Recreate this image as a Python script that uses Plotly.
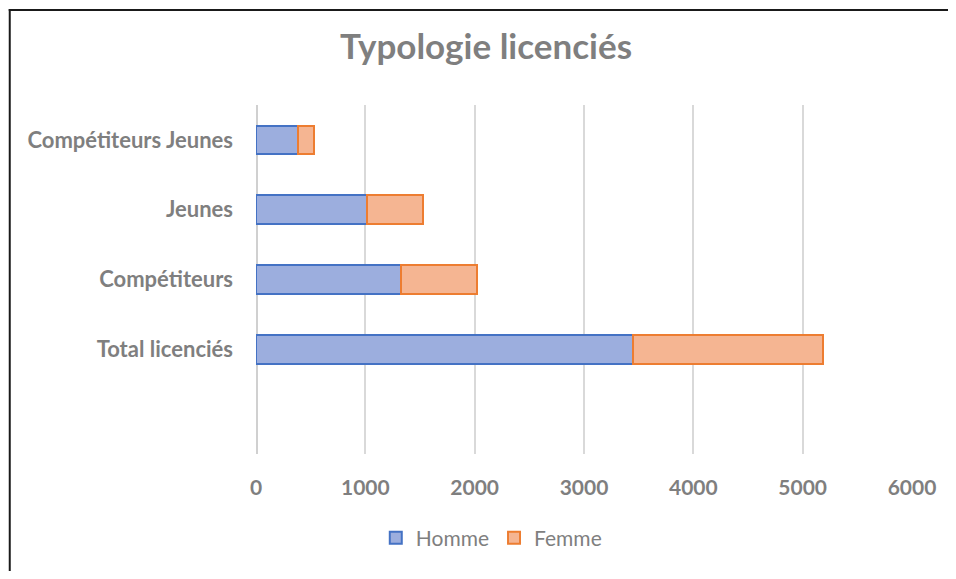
import plotly.graph_objects as go

categories = ["", "Total licenciés", "Compétiteurs", "Jeunes", "Compétiteurs Jeunes"]
homme = [None, 3447, 1330, 1017, 380]
femme = [None, 1743, 695, 513, 148]
x_ticks = [0, 1000, 2000, 3000, 4000, 5000, 6000]

positions = list(range(len(categories)))
TXT = "#7f7f7f"
FONT = "Lato"

fig = go.Figure()
fig.add_trace(go.Bar(
    y=positions, x=homme, name="Homme", orientation="h", width=0.41,
    marker=dict(color="#9caede", line=dict(color="#4472c4", width=2)),
))
fig.add_trace(go.Bar(
    y=positions, x=femme, name="Femme", orientation="h", width=0.41,
    marker=dict(color="#f5b592", line=dict(color="#ed7d31", width=2)),
))

OFF = 8  # page body margin
W, H = 956 - 2 * OFF, 579 - 2 * OFF
L, T = 256 - OFF, 105 - OFF
R = W - (914 - OFF)
B = H - (458 - OFF)
pw, ph = W - L - R, H - T - B

def px(xs):
    return (xs - OFF - L) / pw

def py(ys):
    return (H - B - (ys - OFF)) / ph

fig.update_layout(
    width=W, height=H,
    barmode="stack",
    margin=dict(l=L, r=R, t=T, b=B, pad=0),
    paper_bgcolor="white", plot_bgcolor="white",
    font=dict(family=FONT, color=TXT),
    title=dict(text="<b>Typologie licenciés</b>", x=(486 - OFF) / W, xanchor="center",
               y=1 - (47 - OFF) / H, yanchor="middle", yref="container",
               font=dict(size=35, color=TXT, family=FONT)),
    xaxis=dict(range=[0, 6000], tickvals=x_ticks, ticktext=[f"<b>{v}</b>" for v in x_ticks],
               showgrid=True, gridcolor="#d9d9d9", gridwidth=1.5,
               zeroline=False, showline=False, ticks="",
               tickfont=dict(size=21, color=TXT, family=FONT),
               ticklabelstandoff=19, fixedrange=True),
    yaxis=dict(range=[-0.5, len(categories) - 0.5], tickvals=positions[1:],
               ticktext=[f"<b>{c}</b>" for c in categories[1:]],
               showgrid=False, zeroline=False, showline=False, ticks="",
               tickfont=dict(size=22, color=TXT, family=FONT),
               ticklabelstandoff=22, fixedrange=True),
    legend=dict(orientation="h", traceorder="normal", x=px(492), xanchor="center",
                y=py(543), yanchor="middle",
                font=dict(size=21, color=TXT, family=FONT), bgcolor="rgba(0,0,0,0)",
                itemwidth=30, tracegroupgap=0),
    showlegend=True,
    shapes=[
        dict(type="line", xref="paper", yref="paper", x0=px(OFF + 1), x1=px(OFF + 1),
             y0=py(OFF), y1=py(600), line=dict(color="#1a1a1a", width=2)),
        dict(type="line", xref="paper", yref="paper", x0=px(OFF), x1=px(980),
             y0=py(OFF + 1), y1=py(OFF + 1), line=dict(color="#1a1a1a", width=2)),
        dict(type="line", xref="paper", yref="paper", x0=px(257), x1=px(257), y0=0, y1=1,
             line=dict(color="#d0d0d0", width=2), layer="below"),
    ],
)

fig.write_html("out.html")
